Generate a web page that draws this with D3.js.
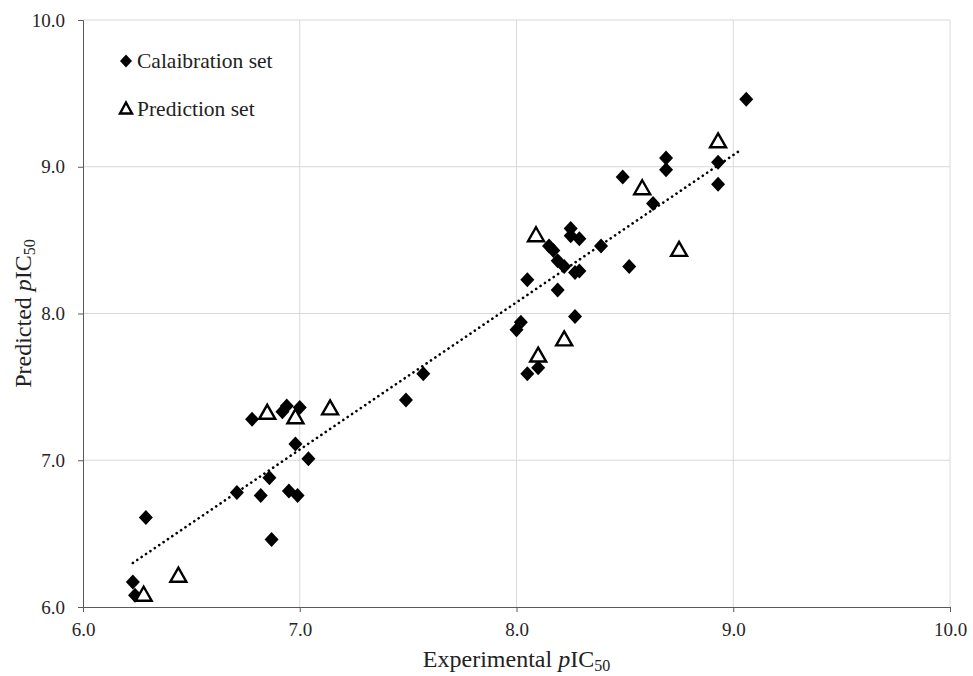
<!DOCTYPE html>
<html lang="en">
<head>
<meta charset="utf-8">
<style type="text/css">
    body { margin: 0; background: #fff; font-family: "Liberation Serif", "Times New Roman", serif; }
    svg { display: block; }
    .grid line { stroke: #d9d9d9; stroke-width: 1px; }
    .axis path, .axis line { stroke: #595959; }
    .axis text { fill: #262626; }
</style>
</head>
<body>
<div id="chart"></div>
<script src="https://d3js.org/d3.v7.min.js"></script>
<script type="text/javascript">
    // calibration set (experimental, predicted)
    var calX = [9.06, 8.69, 8.69, 8.93, 8.93, 8.49, 8.63, 8.39, 8.52, 8.29, 8.25, 8.25, 8.15, 8.17,
                8.19, 8.22, 8.27, 8.29, 8.05, 8.19, 8.27, 8.02, 8.00, 8.10, 8.05, 7.49, 7.57,
                6.29, 6.23, 6.24, 6.78, 6.92, 6.94, 7.00, 6.98, 7.04, 6.86, 6.71, 6.82, 6.95, 6.99, 6.87];
    var calY = [9.46, 9.06, 8.98, 9.03, 8.88, 8.93, 8.75, 8.46, 8.32, 8.51, 8.58, 8.53, 8.46, 8.43,
                8.36, 8.32, 8.28, 8.29, 8.23, 8.16, 7.98, 7.94, 7.89, 7.63, 7.59, 7.41, 7.59,
                6.61, 6.17, 6.08, 7.28, 7.33, 7.37, 7.36, 7.11, 7.01, 6.88, 6.78, 6.76, 6.79, 6.76, 6.46];
    // prediction set
    var preX = [8.93, 8.58, 8.75, 8.09, 8.22, 8.10, 6.28, 6.44, 6.85, 6.98, 7.14];
    var preY = [9.17, 8.85, 8.43, 8.53, 7.82, 7.71, 6.08, 6.21, 7.32, 7.29, 7.35];

    // linear trend line ends
    var trendX = [6.23, 9.04];
    var trendY = [6.30, 9.12];

    var ticks = [6.0, 7.0, 8.0, 9.0, 10.0];

    var width = 973, height = 676;
    var margin = {left: 83, right: 23, top: 20, bottom: 69};
    var serif = '"Liberation Serif", "Times New Roman", serif';

    var svg = d3.select('#chart').append('svg')
        .attr('width', width)
        .attr('height', height);

    var x = d3.scaleLinear().domain([6, 10]).range([margin.left, width - margin.right]);
    var y = d3.scaleLinear().domain([6, 10]).range([height - margin.bottom, margin.top]);

    // grid lines
    var grid = svg.append('g').attr('class', 'grid');
    grid.selectAll('.gx').data(ticks.slice(1)).enter().append('line')
        .attr('x1', function (d) { return x(d); }).attr('x2', function (d) { return x(d); })
        .attr('y1', y(6)).attr('y2', y(10));
    grid.selectAll('.gy').data(ticks.slice(1)).enter().append('line')
        .attr('y1', function (d) { return y(d); }).attr('y2', function (d) { return y(d); })
        .attr('x1', x(6)).attr('x2', x(10));

    // axes
    svg.append('g').attr('class', 'axis')
        .attr('transform', 'translate(0,' + y(6) + ')')
        .call(d3.axisBottom(x).tickValues(ticks).tickFormat(d3.format('.1f')).tickSizeOuter(0).tickSize(5).tickPadding(11))
        .attr('font-family', serif).attr('font-size', 19);
    svg.append('g').attr('class', 'axis')
        .attr('transform', 'translate(' + x(6) + ',0)')
        .call(d3.axisLeft(y).tickValues(ticks).tickFormat(d3.format('.1f')).tickSizeOuter(0).tickSize(5).tickPadding(13))
        .attr('font-family', serif).attr('font-size', 19);

    // dotted trend line
    svg.append('line')
        .attr('x1', x(trendX[0])).attr('y1', y(trendY[0]))
        .attr('x2', x(trendX[1])).attr('y2', y(trendY[1]))
        .attr('stroke', '#000').attr('stroke-width', 2.6)
        .attr('stroke-linecap', 'round')
        .attr('stroke-dasharray', '0.1,5.2');

    var diamond = 'M0,-7.5L7,0L0,7.5L-7,0Z';
    var tri = 'M0,-8.5L8,5.5L-8,5.5Z';

    svg.selectAll('.cal').data(d3.range(calX.length)).enter().append('path')
        .attr('class', 'cal')
        .attr('d', diamond)
        .attr('transform', function (i) { return 'translate(' + x(calX[i]) + ',' + y(calY[i]) + ')'; })
        .attr('fill', '#000');

    svg.selectAll('.pre').data(d3.range(preX.length)).enter().append('path')
        .attr('class', 'pre')
        .attr('d', tri)
        .attr('transform', function (i) { return 'translate(' + x(preX[i]) + ',' + y(preY[i]) + ')'; })
        .attr('fill', '#fff').attr('stroke', '#000').attr('stroke-width', 2.4);

    // legend
    var leg = svg.append('g').attr('font-family', serif);
    leg.append('path').attr('d', 'M0,-6.5L6,0L0,6.5L-6,0Z').attr('fill', '#000')
        .attr('transform', 'translate(126,61)');
    leg.append('text').attr('x', 137).attr('y', 68).attr('font-size', 21.5).attr('fill', '#222')
        .text('Calaibration set');
    leg.append('path').attr('d', 'M0,-6.5L6,4.5L-6,4.5Z').attr('fill', '#fff')
        .attr('stroke', '#000').attr('stroke-width', 2.4)
        .attr('transform', 'translate(126,109)');
    leg.append('text').attr('x', 137).attr('y', 116).attr('font-size', 21.5).attr('fill', '#222')
        .text('Prediction set');

    // axis titles
    var xt = svg.append('text').attr('x', x(8)).attr('y', 667).attr('text-anchor', 'middle')
        .attr('font-family', serif).attr('font-size', 24).attr('fill', '#222');
    xt.append('tspan').text('Experimental ');
    xt.append('tspan').attr('font-style', 'italic').text('p');
    xt.append('tspan').text('IC');
    xt.append('tspan').attr('font-size', 16).attr('dy', 4).text('50');

    var yt = svg.append('text').attr('transform', 'translate(31,' + y(8) + ') rotate(-90)')
        .attr('text-anchor', 'middle').attr('font-family', serif).attr('font-size', 24).attr('fill', '#222');
    yt.append('tspan').text('Predicted ');
    yt.append('tspan').attr('font-style', 'italic').text('p');
    yt.append('tspan').text('IC');
    yt.append('tspan').attr('font-size', 16).attr('dy', 4).text('50');
</script>
</body>
</html>
